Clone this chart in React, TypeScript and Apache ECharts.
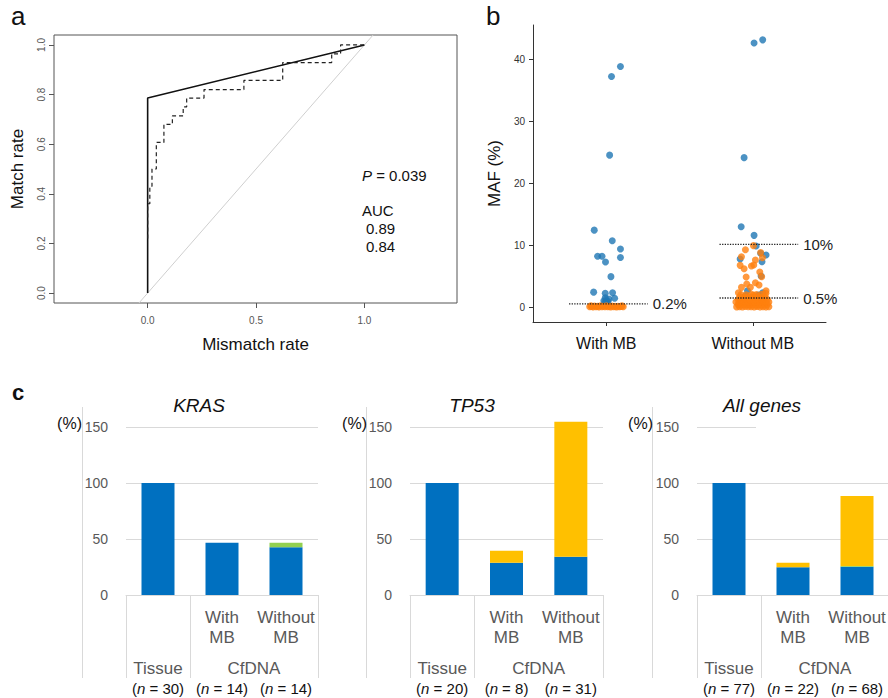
import React, { useEffect, useRef } from 'react';
import * as echarts from 'echarts';

const FONT = '"Liberation Sans", Arial, Helvetica, sans-serif';

// ---------- Panel a: ROC curves ----------
const rocSolidX = [0, 0, 1];
const rocSolidY = [0, 0.786, 1];
const rocDashX = [0, 0, 0.01, 0.01, 0.02, 0.02, 0.04, 0.04, 0.075, 0.075, 0.114, 0.114, 0.164, 0.164, 0.18, 0.18, 0.26, 0.26, 0.444, 0.444, 0.623, 0.623, 0.849, 0.849, 0.89, 0.89, 1.0];
const rocDashY = [0.22, 0.36, 0.36, 0.43, 0.43, 0.5, 0.5, 0.607, 0.607, 0.68, 0.68, 0.714, 0.714, 0.75, 0.75, 0.786, 0.786, 0.82, 0.82, 0.857, 0.857, 0.929, 0.929, 0.964, 0.964, 1.0, 1.0];
const rocDiagonal = [-0.04, 1.04];
const rocTicksX = [0, 0.5, 1];
const rocTicksY = [0, 0.2, 0.4, 0.6, 0.8, 1];

// ---------- Panel b: MAF strip plot ----------
const mafGroups = ['With MB', 'Without MB'];
const mafTicks = [0, 10, 20, 30, 40];
// [jitter offset, MAF %]
const withMBBlue = [[0.097, 38.8], [0.036, 37.2], [0.023, 24.5], [-0.082, 12.4], [0.041, 10.7], [0.097, 9.35], [-0.059, 8.2], [-0.029, 8.2], [0.097, 8.0], [-0.005, 7.26], [0.032, 4.9], [-0.086, 2.4], [-0.007, 2.2], [0.043, 2.3], [0.057, 1.4], [-0.007, 1.5], [0.0, 1.1], [0.012, 0.9], [-0.016, 1.0], [0.018, 1.3], [0.005, 0.6], [-0.01, 0.7]];
const withMBOrange = [[-0.113, 0.05], [-0.1, 0.1], [-0.09, 0.02], [-0.08, 0.15], [-0.07, 0.05], [-0.06, 0.1], [-0.05, 0.0], [-0.04, 0.2], [-0.03, 0.05], [-0.02, 0.12], [-0.01, 0.03], [0.0, 0.18], [0.01, 0.06], [0.02, 0.1], [0.03, 0.02], [0.04, 0.15], [0.05, 0.05], [0.06, 0.1], [0.07, 0.0], [0.08, 0.12], [0.09, 0.05], [0.1, 0.1], [0.116, 0.04], [-0.105, 0.2], [0.108, 0.18]];
const withoutMBBlue = [[0.068, 43.1], [0.009, 42.6], [-0.059, 24.1], [-0.079, 12.96], [0.009, 11.56], [0.023, 9.84], [0.091, 8.39], [0.054, 8.66], [-0.086, 7.74], [0.063, 7.31], [0.057, 5.0], [-0.036, 2.63], [0.068, 2.31], [-0.052, 1.77], [0.039, 1.94]];
const withoutMBOrange = [
  [-0.05, 9.25], [0.005, 9.9], [0.054, 8.8], [-0.077, 8.1], [0.066, 7.96], [0.018, 7.58], [-0.086, 6.72], [-0.059, 6.18], [-0.009, 6.61], [0.007, 6.77], [0.048, 5.65], [-0.045, 4.84], [0.061, 4.89], [0.018, 3.92], [0.043, 3.55], [-0.041, 3.71], [-0.077, 3.17], [0.091, 2.63], [-0.016, 3.17], [-0.098, 2.31], [0.005, 1.94],
  [-0.11, 0.02], [-0.09, 0.05], [-0.07, 0.0], [-0.05, 0.08], [-0.03, 0.03], [-0.01, 0.06], [0.01, 0.01], [0.03, 0.07], [0.05, 0.02], [0.07, 0.05], [0.09, 0.0], [0.11, 0.04],
  [-0.1, 0.42], [-0.08, 0.37], [-0.06, 0.45], [-0.04, 0.4], [-0.02, 0.35], [0.0, 0.44], [0.02, 0.38], [0.04, 0.41], [0.06, 0.36], [0.08, 0.43], [0.1, 0.39],
  [-0.115, 0.82], [-0.09, 0.78], [-0.07, 0.85], [-0.05, 0.8], [-0.03, 0.76], [-0.01, 0.84], [0.01, 0.79], [0.03, 0.83], [0.05, 0.77], [0.07, 0.81], [0.09, 0.86], [0.11, 0.8],
  [-0.1, 1.22], [-0.08, 1.18], [-0.06, 1.25], [-0.04, 1.2], [-0.02, 1.16], [0.0, 1.23], [0.02, 1.19], [0.04, 1.24], [0.06, 1.17], [0.08, 1.21], [0.1, 1.2],
  [-0.09, 1.62], [-0.065, 1.58], [-0.04, 1.65], [-0.015, 1.6], [0.01, 1.57], [0.035, 1.63], [0.06, 1.59], [0.085, 1.64],
  [-0.08, 2.02], [-0.045, 1.98], [-0.01, 2.05], [0.025, 2.0], [0.06, 2.04], [0.09, 2.22],
];
const thresholdGroup = [0, 1, 1];
const thresholdValue = [0.5, 1.45, 10.1];
const thresholdLabel = ['0.2%', '0.5%', '10%'];
const thresholdFrom = [-0.254, -0.227, -0.227];
const thresholdTo = [0.283, 0.31, 0.31];

// ---------- Panel c: detection rate bars ----------
const barCategories = ['Tissue', 'With MB', 'Without MB'];
const geneNames = ['KRAS', 'TP53', 'All genes'];
const krasBlue = [100, 46.7, 42.7];
const krasGreen = [0, 0, 4.0];
const krasYellow = [0, 0, 0];
const tp53Blue = [100, 28.8, 34.2];
const tp53Green = [0, 0, 0];
const tp53Yellow = [0, 10.7, 120.5];
const allBlue = [100, 24.7, 25.3];
const allGreen = [0, 0, 0.7];
const allYellow = [0, 4.1, 62.4];
const krasN = [30, 14, 14];
const tp53N = [20, 8, 31];
const allN = [77, 22, 68];
const barTicks = [0, 50, 100, 150];

const geneBlue = [krasBlue, tp53Blue, allBlue];
const geneGreen = [krasGreen, tp53Green, allGreen];
const geneYellow = [krasYellow, tp53Yellow, allYellow];
const geneN = [krasN, tp53N, allN];

const BLUE = '#0070C0';
const GREEN = '#92D050';
const YELLOW = '#FFC000';
const GRID_GRAY = '#D9D9D9';
const LABEL_GRAY = '#595959';

export default function App() {
  const ref = useRef<HTMLDivElement>(null);

  useEffect(() => {
    const chart = echarts.init(ref.current!, null, { renderer: 'svg', width: 888, height: 698 });

    const barGrids = [
      { left: 126, top: 427, width: 192, height: 168 },
      { left: 410, top: 427, width: 193, height: 168 },
      { left: 697, top: 427, width: 192, height: 168 },
    ];

    const xAxes: any[] = [
      {
        gridIndex: 0, type: 'value', min: -0.432, max: 1.427,
        axisLine: { show: false, onZero: false },
        splitLine: { show: false },
        axisTick: { show: true, customValues: rocTicksX, length: 5, lineStyle: { color: '#555' } },
        axisLabel: { customValues: rocTicksX, formatter: (v: number) => v.toFixed(1), fontSize: 10, color: '#555', margin: 12 },
        name: 'Mismatch rate', nameLocation: 'middle', nameGap: 33,
        nameTextStyle: { fontSize: 17, color: '#111' },
      },
      {
        gridIndex: 1, type: 'value', min: -0.5, max: 1.5,
        axisLine: { show: true, onZero: false, lineStyle: { color: '#333' } },
        splitLine: { show: false },
        axisTick: { show: true, customValues: [0, 1], length: 4, lineStyle: { color: '#333' } },
        axisLabel: { customValues: [0, 1], formatter: (v: number) => mafGroups[Math.round(v)], fontSize: 16, color: '#111', margin: 13 },
      },
    ];
    const yAxes: any[] = [
      {
        gridIndex: 0, type: 'value', min: -0.04, max: 1.04,
        axisLine: { show: false, onZero: false },
        splitLine: { show: false },
        axisTick: { show: true, customValues: rocTicksY, length: 5, lineStyle: { color: '#555' } },
        axisLabel: { customValues: rocTicksY, formatter: (v: number) => v.toFixed(1), fontSize: 10, color: '#555', margin: 8, rotate: 90 },
        name: 'Match rate', nameLocation: 'middle', nameRotate: 90, nameGap: 28,
        nameTextStyle: { fontSize: 17, color: '#111' },
      },
      {
        gridIndex: 1, type: 'value', min: -2.42, max: 45.5,
        axisLine: { show: true, onZero: false, lineStyle: { color: '#333' } },
        splitLine: { show: false },
        axisTick: { show: true, customValues: mafTicks, length: 4, lineStyle: { color: '#333' } },
        axisLabel: { customValues: mafTicks, fontSize: 10, color: '#333', margin: 8 },
        name: 'MAF (%)', nameLocation: 'middle', nameRotate: 90, nameGap: 30,
        nameTextStyle: { fontSize: 17, color: '#111' },
      },
    ];

    const series: any[] = [
      {
        type: 'line', xAxisIndex: 0, yAxisIndex: 0, symbol: 'none',
        data: rocDiagonal.map((v) => [v, v]),
        lineStyle: { color: '#cfcfcf', width: 1 },
      },
      {
        type: 'line', xAxisIndex: 0, yAxisIndex: 0, symbol: 'none',
        data: rocSolidX.map((x, i) => [x, rocSolidY[i]]),
        lineStyle: { color: '#111', width: 1.6 },
      },
      {
        type: 'line', xAxisIndex: 0, yAxisIndex: 0, symbol: 'none',
        data: rocDashX.map((x, i) => [x, rocDashY[i]]),
        lineStyle: { color: '#222', width: 1.2, type: [4, 3] },
      },
      {
        type: 'scatter', xAxisIndex: 1, yAxisIndex: 1, symbolSize: 7,
        itemStyle: { color: '#1f77b4' },
        data: [...withMBBlue.map(([d, y]) => [0 + d, y]), ...withoutMBBlue.map(([d, y]) => [1 + d, y])],
      },
      {
        type: 'scatter', xAxisIndex: 1, yAxisIndex: 1, symbolSize: 7,
        itemStyle: { color: '#ff7f0e' },
        data: [...withMBOrange.map(([d, y]) => [0 + d, y]), ...withoutMBOrange.map(([d, y]) => [1 + d, y])],
      },
      ...thresholdValue.map((v, i) => ({
        type: 'line', xAxisIndex: 1, yAxisIndex: 1, symbol: 'none', z: 5,
        data: [[thresholdGroup[i] + thresholdFrom[i], v], [thresholdGroup[i] + thresholdTo[i], v]],
        lineStyle: { color: '#222', width: 1.3, type: 'dotted' },
        endLabel: { show: true, formatter: thresholdLabel[i], fontSize: 15, color: '#222', distance: 5 },
      })),
    ];

    const grids: any[] = [
      { left: 54, top: 35, width: 403, height: 268, show: true, borderColor: '#555', borderWidth: 1, outerBoundsMode: 'none' },
      { left: 533, top: 25, width: 293, height: 297, outerBoundsMode: 'none' },
    ];

    geneNames.forEach((g, k) => {
      const gi = 2 + k;
      grids.push({ ...barGrids[k], outerBoundsMode: 'none' });
      xAxes.push({
        gridIndex: gi, type: 'category', data: barCategories,
        axisLine: { show: true, lineStyle: { color: GRID_GRAY, width: 1 } },
        axisTick: { show: true, interval: (idx: number) => idx !== 2, length: 83, lineStyle: { color: GRID_GRAY } },
        axisLabel: {
          interval: 0, fontSize: 17, color: LABEL_GRAY, lineHeight: 20, margin: 12,
          formatter: (v: string) => (v === 'Tissue' ? '' : v.replace(' ', '\n')),
        },
      });
      yAxes.push({
        gridIndex: gi, type: 'value', min: 0, max: 150, interval: 50,
        axisLine: { show: false }, axisTick: { show: false },
        axisLabel: { fontSize: 14, color: LABEL_GRAY, margin: 18 },
        splitLine: { lineStyle: { color: GRID_GRAY, width: 1 } },
      });
      const common = { type: 'bar', xAxisIndex: gi, yAxisIndex: gi, stack: 'g' + k, barWidth: 33, clip: false };
      series.push({ ...common, name: g + ' blue', data: geneBlue[k], itemStyle: { color: BLUE } });
      series.push({ ...common, name: g + ' green', data: geneGreen[k], itemStyle: { color: GREEN } });
      series.push({ ...common, name: g + ' yellow', data: geneYellow[k], itemStyle: { color: YELLOW } });
    });

    chart.setOption({
      animation: false,
      textStyle: { fontFamily: FONT },
      grid: grids,
      xAxis: xAxes,
      yAxis: yAxes,
      series,
    });

    const txt = (x: number, y: number, text: string, fontSize: number, extra: any = {}) => ({
      type: 'text', x, y, z: 100,
      style: {
        text, fontSize, fontFamily: FONT, fill: '#111',
        textAlign: 'left', textVerticalAlign: 'middle', ...extra,
      },
    });

    const graphic: any[] = [
      txt(11, 16, 'a', 26),
      txt(486, 16, 'b', 26),
      txt(12, 392, 'c', 22, { fontWeight: 'bold' }),
      txt(362, 175, '{i|P} = 0.039', 15, { rich: { i: { fontStyle: 'italic', fontSize: 15, fontFamily: FONT } } }),
      txt(362, 210, 'AUC', 15),
      txt(366, 228, '0.89', 15),
      txt(366, 246, '0.84', 15),
      txt(199, 405, 'KRAS', 19, { textAlign: 'center', fontStyle: 'italic' }),
      txt(472, 405, 'TP53', 19, { textAlign: 'center', fontStyle: 'italic' }),
      txt(762, 405, 'All genes', 19, { textAlign: 'center', fontStyle: 'italic' }),
      txt(82, 423, '(%)', 16, { textAlign: 'right' }),
      txt(367, 423, '(%)', 16, { textAlign: 'right' }),
      txt(653, 423, '(%)', 16, { textAlign: 'right' }),
      { type: 'line', z: 90, shape: { x1: 82.5, y1: 407, x2: 82.5, y2: 678 }, style: { stroke: GRID_GRAY, lineWidth: 1 } },
      { type: 'line', z: 90, shape: { x1: 366.5, y1: 407, x2: 366.5, y2: 678 }, style: { stroke: GRID_GRAY, lineWidth: 1 } },
      { type: 'line', z: 90, shape: { x1: 652.5, y1: 407, x2: 652.5, y2: 678 }, style: { stroke: GRID_GRAY, lineWidth: 1 } },
      { type: 'rect', z: 90, shape: { x: 756, y: 424, width: 140, height: 6 }, style: { fill: '#fff' } },
    ];

    geneNames.forEach((g, k) => {
      const gi = 2 + k;
      const px = barCategories.map((_, i) => (chart.convertToPixel({ gridIndex: gi } as any, [i, 0]) as number[])[0]);
      graphic.push(txt(px[0], 668, 'Tissue', 17, { textAlign: 'center', fill: LABEL_GRAY }));
      graphic.push(txt((px[1] + px[2]) / 2, 668, 'CfDNA', 17, { textAlign: 'center', fill: LABEL_GRAY }));
      geneN[k].forEach((n, i) => {
        graphic.push(txt(px[i], 688, '({i|n} = ' + n + ')', 15, {
          textAlign: 'center',
          rich: { i: { fontStyle: 'italic', fontSize: 15, fontFamily: FONT } },
        }));
      });
    });

    chart.setOption({ graphic });

    return () => chart.dispose();
  }, []);

  return <div ref={ref} style={{ position: 'fixed', left: 0, top: 0, width: 888, height: 698, background: '#fff' }} />;
}
